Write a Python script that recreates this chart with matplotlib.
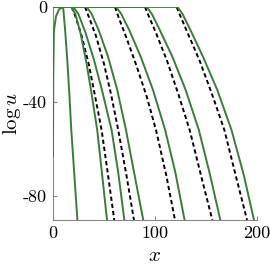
import matplotlib
matplotlib.use("Agg")
import matplotlib.pyplot as plt

plt.rcParams['mathtext.fontset'] = 'cm'
plt.rcParams['axes.unicode_minus'] = False

# solid (green) curves: x positions and log u values
g0_x = [0, 0.3, 1, 3, 6, 10, 12, 14, 16, 18, 21, 24]
g0_y = [-63, -30, -10, -4, -1, 0, -10, -22, -36, -52, -71, -90]
g1_x = [0, 18, 22, 27, 33, 38, 43.4, 48, 53]
g1_y = [0, 0, -3, -11, -24, -37, -52, -70, -90]
g2_x = [0, 20, 25, 32, 40, 48, 57.5, 64, 70]
g2_y = [0, 0, -3, -11, -22, -35, -52, -70, -90]
g3_x = [0, 33, 38, 45, 54, 63, 71.6, 80, 88.5]
g3_y = [0, 0, -3, -10, -21, -35, -52, -71, -90]
g4_x = [0, 62, 67, 75, 86, 98, 110, 120, 129]
g4_y = [0, 0, -3, -10, -21, -35, -52, -70, -90]
g5_x = [0, 92, 97, 105, 117, 130, 143, 154, 164]
g5_y = [0, 0, -3, -10, -21, -35, -52, -71, -90]
g6_x = [0, 122, 127, 135, 147, 161, 175, 187, 197]
g6_y = [0, 0, -3, -10, -21, -35, -52, -71, -90]

# dashed (black) curves, starting where they leave log u = 0
b1_x = [18.3, 22, 28, 35, 41, 47.7, 54, 60.1]
b1_y = [0, -4, -12, -24, -37, -52, -71, -90]
b2_x = [31.4, 35, 42, 50, 57, 64, 72, 79.4]
b2_y = [0, -4, -12, -24, -37, -52, -71, -90]
b3_x = [60.8, 64, 72, 82, 92, 101, 111, 119.6]
b3_y = [0, -4, -13, -25, -38, -52, -71, -90]
b4_x = [90.2, 93, 101, 112, 123, 134, 145, 156.2]
b4_y = [0, -3, -11, -23, -37, -52, -71, -90]
b5_x = [121.3, 124, 132, 144, 156, 168, 179, 190.2]
b5_y = [0, -3, -11, -23, -37, -52, -71, -90]

green = '#3a7d3a'
solid = [(g0_x, g0_y), (g1_x, g1_y), (g2_x, g2_y), (g3_x, g3_y),
         (g4_x, g4_y), (g5_x, g5_y), (g6_x, g6_y)]
dashed = [(b1_x, b1_y), (b2_x, b2_y), (b3_x, b3_y), (b4_x, b4_y), (b5_x, b5_y)]

fig = plt.figure(figsize=(2.7, 2.66), dpi=100)
ax = fig.add_axes([0.196, 0.173, 0.756, 0.801])

for xs, ys in dashed:
    ax.plot(xs, ys, color='black', lw=1.4, dashes=(2.2, 1.5), zorder=2)
for xs, ys in solid:
    ax.plot(xs, ys, color=green, lw=1.4, zorder=3)

ax.set_xlim(0, 200)
ax.set_ylim(-90, 0)
ax.set_xticks([0, 100, 200])
ax.set_yticks([0, -40, -80])
ax.set_xticklabels(['0', '100', '200'], fontfamily='cmr10', fontsize=13)
ax.set_yticklabels(['0', '-40', '-80'], fontfamily='cmr10', fontsize=13)
ax.tick_params(direction='in', length=3, color='#888888', width=0.8, pad=4)
for s in ['top', 'right']:
    ax.spines[s].set_visible(False)
for s in ['left', 'bottom']:
    ax.spines[s].set_color('#888888')
    ax.spines[s].set_linewidth(0.8)

ax.set_xlabel(r'$x$', fontsize=15, labelpad=3)
ax.set_ylabel(r'$\log u$', fontsize=15, labelpad=0)

fig.savefig('out.png', dpi=100)
